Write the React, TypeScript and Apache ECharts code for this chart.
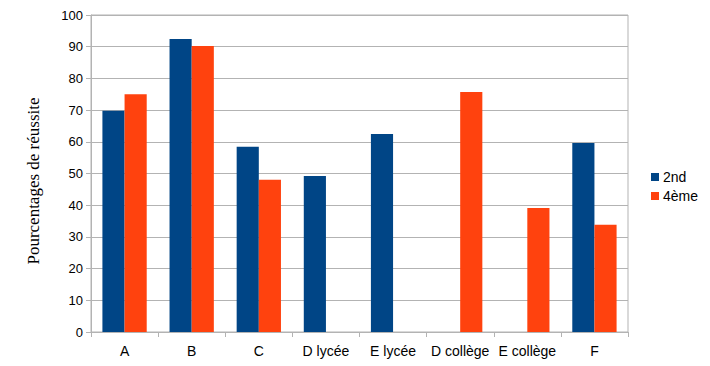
import React, { useEffect, useRef } from "react";
import * as echarts from "echarts";

const categories = ["A", "B", "C", "D lycée", "E lycée", "D collège", "E collège", "F"];
const seconde = [69.8, 92.4, 58.4, 49.2, 62.5, null, null, 59.6];
const quatrieme = [75.0, 90.2, 48.0, null, null, 75.7, 39.1, 33.8];
const yTicks = { min: 0, max: 100, interval: 10 };
const yTitle = "Pourcentages de réussite";

export default function App() {
  const ref = useRef<HTMLDivElement>(null);
  useEffect(() => {
    const chart = echarts.init(ref.current!, null, { renderer: "svg" });
    const font = "'Liberation Sans', Arial, sans-serif";
    chart.setOption({
      animation: false,
      backgroundColor: "#ffffff",
      grid: {
        left: 91, right: 82, top: 15, bottom: 34,
        show: true, borderColor: "#b3b3b3", borderWidth: 1,
      },
      legend: {
        orient: "vertical",
        left: 646, top: 165,
        itemWidth: 8, itemHeight: 8, itemGap: 5,
        icon: "rect",
        textStyle: { fontFamily: font, fontSize: 14, color: "#000", padding: [0, 0, 0, -1] },
        data: ["2nd", "4ème"],
      },
      graphic: [
        {
          type: "text",
          x: 33, y: 181,
          rotation: Math.PI / 2,
          style: {
            text: yTitle,
            fontFamily: "'Liberation Serif', 'DejaVu Serif', serif",
            fontSize: 17,
            fill: "#000",
            align: "center",
            verticalAlign: "middle",
          },
        },
      ],
      xAxis: {
        type: "category",
        data: categories,
        axisLine: { lineStyle: { color: "#b3b3b3" } },
        axisTick: { show: true, length: 5, lineStyle: { color: "#b3b3b3" } },
        axisLabel: { interval: 0, fontFamily: font, fontSize: 14, color: "#000", margin: 12 },
      },
      yAxis: {
        type: "value",
        min: yTicks.min, max: yTicks.max, interval: yTicks.interval,
        axisLine: { show: true, lineStyle: { color: "#b3b3b3" } },
        axisTick: { show: true, length: 5, lineStyle: { color: "#b3b3b3" } },
        axisLabel: { fontFamily: font, fontSize: 13, color: "#000", margin: 8 },
        splitLine: { lineStyle: { color: "#b3b3b3" } },
      },
      series: [
        { name: "2nd", type: "bar", data: seconde, barGap: "0%", barCategoryGap: "34%", itemStyle: { color: "#004586" } },
        { name: "4ème", type: "bar", data: quatrieme, barGap: "0%", barCategoryGap: "34%", itemStyle: { color: "#ff420e" } },
      ],
    });
    return () => chart.dispose();
  }, []);
  return <div ref={ref} style={{ width: 710, height: 366, position: "absolute", left: 0, top: 0 }} />;
}
